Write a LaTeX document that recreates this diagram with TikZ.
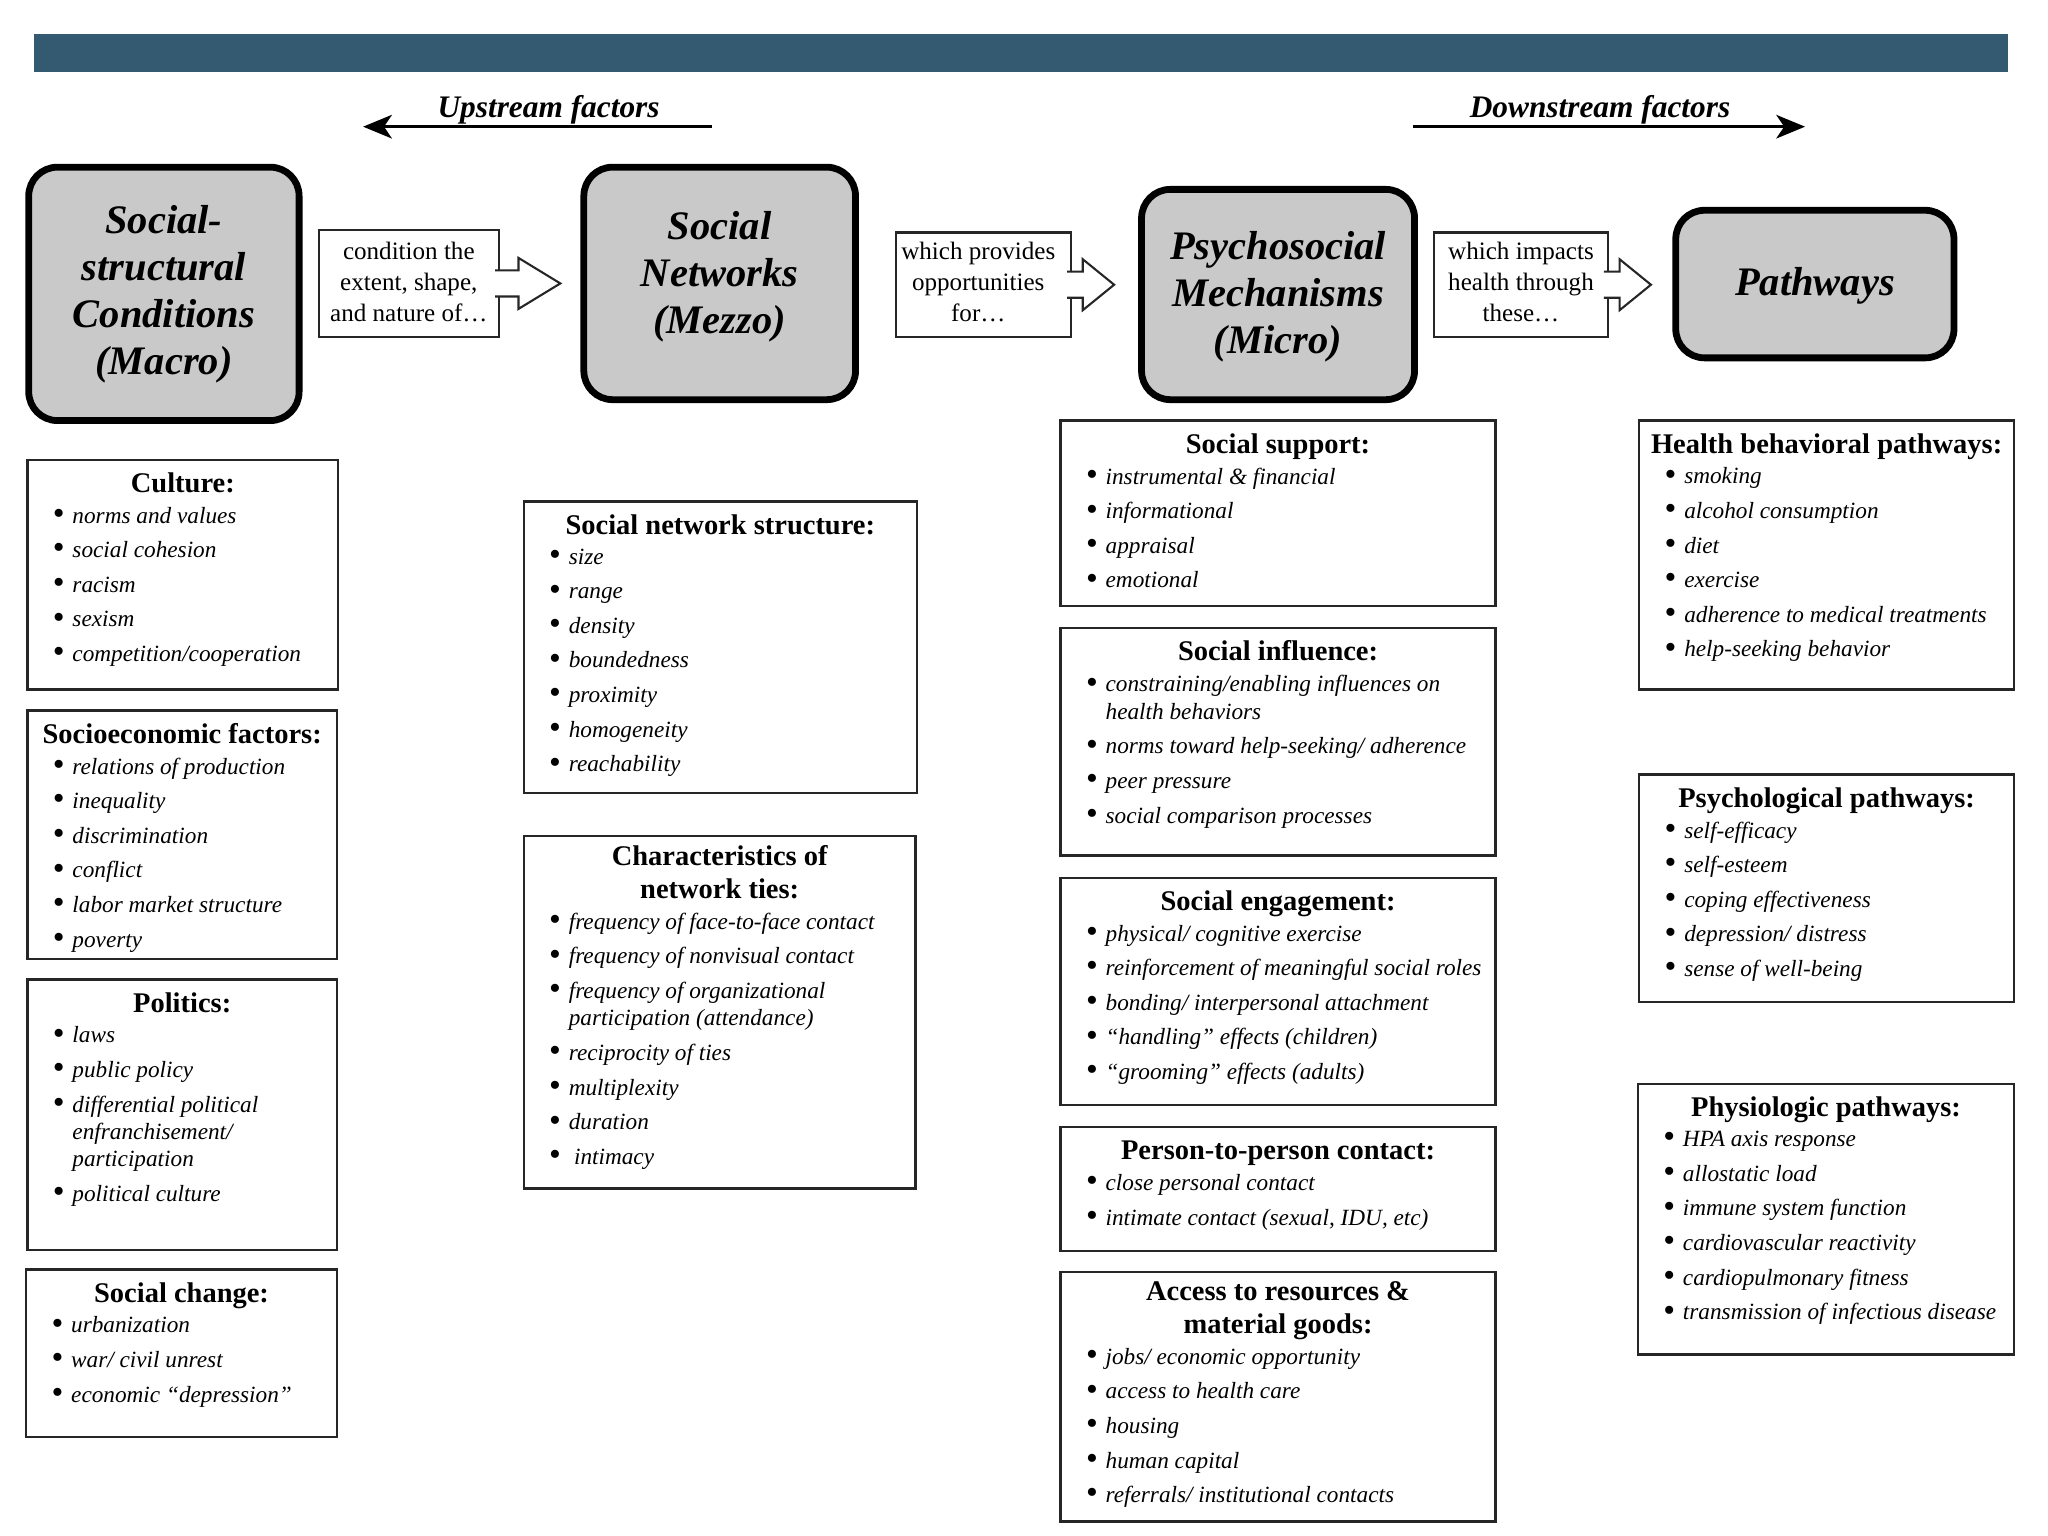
\documentclass[tikz,border=0pt]{standalone}
\usepackage{fontspec}
\setmainfont{Liberation Serif}
\usetikzlibrary{arrows.meta,fit,positioning}
\definecolor{barblue}{RGB}{52,90,114}

% list box: name, corner, corner, heading, items
\newcommand{\infobox}[5]{%
  \node[listbox, fit={#2 #3}] (#1) {};
  \node[listhead, anchor=north] (#1-h) at ([yshift=-4pt]#1.north) {#4};
  \coordinate (#1-c) at (#1-h.south -| #1.west);
  \node[listitems, anchor=north west] (#1-i) at ([shift={(10pt,-1.4pt)}]#1-c) {#5};
}
% bullet, continuation indent, gap between items
\newcommand{\bl}{\makebox[7.5pt][l]{\upshape\raisebox{-0.5pt}{\scalebox{1.45}{\textbullet}}}}
\newcommand{\cn}{\hspace*{7.5pt}}
\newcommand{\nx}{\\[2.75pt]}

% hollow block arrow leaving a connector box: name, stub, head
\newcommand{\blockarrow}[3]{%
  \draw[hollow] ([xshift=-1.5pt]#1.east) ++(0,-10) -- ++(#2,0) -- ++(0,-9.5) -- ++(#3,19.5)
    -- ++(-#3,19.5) -- ++(0,-9.5) -- ++(-#2,0);
}

\begin{document}
\begin{tikzpicture}[x=0.5pt, y=-0.5pt,
  mainbox/.style={draw, line width=2.6pt, rounded corners=11pt, fill=gray!42, inner sep=0pt},
  maintext/.style={inner sep=0pt, align=center, font=\fontsize{15.5}{18}\selectfont\bfseries\itshape},
  connbox/.style={draw=black!85, line width=0.8pt, fill=white, inner sep=0pt, outer sep=0pt},
  conntext/.style={inner sep=0pt, align=center, font=\fontsize{9.6}{11.75}\selectfont},
  hollow/.style={draw=black!85, line width=0.8pt, fill=white, line join=miter},
  listbox/.style={draw=black!85, line width=0.9pt, inner sep=0pt},
  listhead/.style={inner sep=0pt, align=center, font=\fontsize{10.9}{12.5}\selectfont\bfseries,
    execute at begin node=\strut, execute at end node=\strut},
  listitems/.style={inner sep=0pt, align=left, font=\fontsize{8.9}{10.5}\selectfont\itshape,
    execute at begin node=\strut},
  factor/.style={line width=1.3pt, -{Stealth[length=11pt, width=9pt, inset=3pt]}},
  factortxt/.style={inner sep=0pt, font=\fontsize{12}{14}\selectfont\bfseries\itshape}]

  \useasboundingbox (0,0) rectangle (1568,1176);

  % title bar
  \fill[barblue] (26,26) rectangle (1537,55);

  % upstream / downstream
  \coordinate (up-a) at (545,97);
  \coordinate (up-b) at (278,97);
  \draw[factor] (up-a) -- (up-b);
  \node[factortxt] (up-t) at (420,84) {Upstream factors};
  \coordinate (dn-a) at (1082,97);
  \coordinate (dn-b) at (1382,97);
  \draw[factor] (dn-a) -- (dn-b);
  \node[factortxt] (dn-t) at (1225,84) {Downstream factors};

  % main levels
  \node[mainbox, fit={(22,128) (229,322)}] (macro) {};
  \node[maintext] (macro-t) at (macro.center) {Social-\\structural\\Conditions\\(Macro)};
  \node[mainbox, fit={(447,128) (655,306)}] (mezzo) {};
  \node[maintext] (mezzo-t) at ([yshift=2.5pt]mezzo.center) {Social\\Networks\\(Mezzo)};
  \node[mainbox, fit={(874,145) (1083,306)}] (micro) {};
  \node[maintext] (micro-t) at ([yshift=-1pt]micro.center) {Psychosocial\\Mechanisms\\(Micro)};
  \node[mainbox, fit={(1283,161) (1496,274)}] (paths) {};
  \node[maintext] (paths-t) at ([yshift=-0.5pt]paths.center) {Pathways};

  % connectors between the levels
  \node[connbox, fit={(244,176) (382,258)}] (cond) {};
  \node[conntext] (cond-t) at ([yshift=0.5pt]cond.center) {condition the\\extent, shape,\\and nature of…};
  \node[connbox, fit={(686,178) (820,258)}] (opps) {};
  \node[conntext] (opps-t) at ([xshift=-2pt, yshift=1pt]opps.center) {which provides\\opportunities\\for…};
  \node[connbox, fit={(1098,178) (1231,258)}] (impact) {};
  \node[conntext] (impact-t) at ([yshift=1pt]impact.center) {which impacts\\health through\\these…};
  \blockarrow{cond}{18}{32}
  \blockarrow{opps}{12}{24}
  \blockarrow{impact}{12}{24}

  % macro column
  \infobox{culture}{(21,352)}{(259,528)}{Culture:}{\bl norms and values\nx \bl social cohesion\nx
    \bl racism\nx \bl sexism\nx \bl competition/cooperation}
  \infobox{socio}{(21,544)}{(258,734)}{Socioeconomic factors:}{\bl relations of production\nx
    \bl inequality\nx \bl discrimination\nx \bl conflict\nx \bl labor market structure\nx \bl poverty}
  \infobox{politics}{(21,750)}{(258,957)}{Politics:}{\bl laws\nx \bl public policy\nx
    \bl differential political\\\cn enfranchisement/\\\cn participation\nx \bl political culture}
  \infobox{change}{(20,972)}{(258,1100)}{Social change:}{\bl urbanization\nx \bl war/ civil unrest\nx
    \bl economic “depression”}

  % mezzo column
  \infobox{structure}{(401,384)}{(702,607)}{Social network structure:}{\bl size\nx \bl range\nx
    \bl density\nx \bl boundedness\nx \bl proximity\nx \bl homogeneity\nx \bl reachability}
  \infobox{ties}{(401,640)}{(701,910)}{Characteristics of\\network ties:}{\bl frequency of face-to-face contact\nx
    \bl frequency of nonvisual contact\nx \bl frequency of organizational\\\cn participation (attendance)\nx
    \bl reciprocity of ties\nx \bl multiplexity\nx \bl duration\nx \bl\hspace{2pt}intimacy}

  % micro column
  \infobox{support}{(812,322)}{(1145,464)}{Social support:}{\bl instrumental \& financial\nx
    \bl informational\nx \bl appraisal\nx \bl emotional}
  \infobox{influence}{(812,481)}{(1145,655)}{Social influence:}{\bl constraining/enabling influences on\\\cn health behaviors\nx
    \bl norms toward help-seeking/ adherence\nx \bl peer pressure\nx \bl social comparison processes}
  \infobox{engage}{(812,672)}{(1145,846)}{Social engagement:}{\bl physical/ cognitive exercise\nx
    \bl reinforcement of meaningful social roles\nx \bl bonding/ interpersonal attachment\nx
    \bl “handling” effects (children)\nx \bl “grooming” effects (adults)}
  \infobox{contact}{(812,863)}{(1145,958)}{Person-to-person contact:}{\bl close personal contact\nx
    \bl intimate contact (sexual, IDU, etc)}
  \infobox{access}{(812,974)}{(1145,1165)}{Access to resources \&\\material goods:}{\bl jobs/ economic opportunity\nx
    \bl access to health care\nx \bl housing\nx \bl human capital\nx \bl referrals/ institutional contacts}

  % pathways column
  \infobox{behav}{(1255,322)}{(1542,528)}{Health behavioral pathways:}{\bl smoking\nx \bl alcohol consumption\nx
    \bl diet\nx \bl exercise\nx \bl adherence to medical treatments\nx \bl help-seeking behavior}
  \infobox{psych}{(1255,593)}{(1542,767)}{Psychological pathways:}{\bl self-efficacy\nx \bl self-esteem\nx
    \bl coping effectiveness\nx \bl depression/ distress\nx \bl sense of well-being}
  \infobox{physio}{(1254,830)}{(1542,1037)}{Physiologic pathways:}{\bl HPA axis response\nx \bl allostatic load\nx
    \bl immune system function\nx \bl cardiovascular reactivity\nx \bl cardiopulmonary fitness\nx
    \bl transmission of infectious disease}
\end{tikzpicture}
\end{document}
